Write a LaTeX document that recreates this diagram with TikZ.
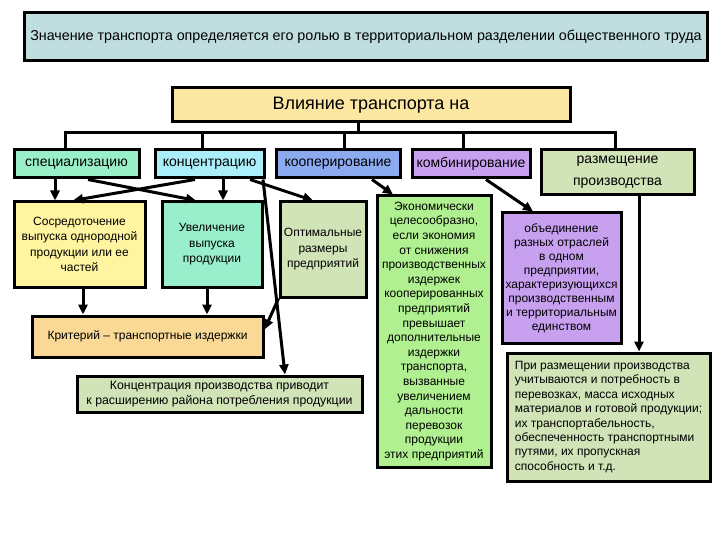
\documentclass[tikz,border=0pt]{standalone}
\usepackage{fontspec}
\setmainfont{Liberation Sans}
\usetikzlibrary{arrows.meta}
\definecolor{ctop}{RGB}{192,222,224}
\definecolor{cvl}{RGB}{251,231,161}
\definecolor{cspec}{RGB}{153,240,200}
\definecolor{cconc}{RGB}{170,238,250}
\definecolor{ccoop}{RGB}{140,170,240}
\definecolor{ccomb}{RGB}{200,160,240}
\definecolor{csage}{RGB}{208,228,184}
\definecolor{cyel}{RGB}{255,245,160}
\definecolor{cmint}{RGB}{153,238,204}
\definecolor{cgreen}{RGB}{176,240,144}
\definecolor{corange}{RGB}{250,216,150}
\tikzset{
  box/.style={draw=black, line width=3pt, inner sep=0pt, align=center},
  big/.style={font=\fontsize{14}{22}\selectfont},
  small/.style={font=\fontsize{12}{15.5}\selectfont},
  arr/.style={line width=3pt, -{Triangle[length=10pt,width=9pt]}},
  ln/.style={line width=3pt},
}
\begin{document}
\begin{tikzpicture}[x=1pt,y=-1pt]
\useasboundingbox[fill=white] (0,0) rectangle (720,540);
% top
\node[box, fill=ctop, minimum width=683, minimum height=48, font=\fontsize{14.3}{16}\selectfont] (top) at (366,37) {Значение транспорта определяется его ролью в территориальном разделении общественного труда};
\node[box, fill=cvl, minimum width=398, minimum height=34, font=\fontsize{18}{20}\selectfont] (vl) at (371,105) {Влияние транспорта на};
% level 1
\node[box, big, fill=cspec, minimum width=125, minimum height=28] (spec) at (76.5,164) {специализацию};
\node[box, big, fill=cconc, minimum width=109, minimum height=28] (conc) at (209.5,164) {концентрацию};
\node[box, big, fill=ccoop, minimum width=124, minimum height=28] (coop) at (338,164) {кооперирование};
\node[box, big, fill=ccomb, minimum width=118, minimum height=28] (comb) at (471,164) {комбинирование};
\node[box, big, fill=csage, minimum width=153, minimum height=45] (razm) at (617.5,172.5) {размещение\\производства};
% tree
\coordinate (j0) at (358,133);
\coordinate (d1) at (65,133);
\coordinate (d2) at (202,133);
\coordinate (d3) at (344,133);
\coordinate (d4) at (463,133);
\coordinate (d5) at (615,133);
\draw[ln] (vl.south -| j0) -- (j0);
\draw[ln] ([xshift=-1.5pt]d1) -- ([xshift=1.5pt]d5);
\draw[ln] (d1) -- (d1 |- spec.north);
\draw[ln] (d2) -- (d2 |- conc.north);
\draw[ln] (d3) -- (d3 |- coop.north);
\draw[ln] (d4) -- (d4 |- comb.north);
\draw[ln] (d5) -- (d5 |- razm.north);
% level 2
\node[box, small, fill=cyel, minimum width=131, minimum height=85] (sosr) at (79.5,244.5) {Сосредоточение\\выпуска однородной\\продукции или ее\\частей};
\node[box, small, fill=cmint, minimum width=100, minimum height=85] (uvel) at (212,244.5) {Увеличение\\выпуска\\продукции};
\node[box, small, fill=csage, minimum width=86, minimum height=95] (opt) at (323,249.5) {Оптимальные\\размеры\\предприятий};
\node[box, fill=cgreen, minimum width=114, minimum height=271, font=\fontsize{12}{14.6}\selectfont] (econ) at (434,331.5) {Экономически\\целесообразно,\\если экономия\\от снижения\\производственных\\издержек\\кооперированных\\предприятий\\превышает\\дополнительные\\издержки\\транспорта,\\вызванные\\увеличением\\дальности\\перевозок\\продукции\\этих предприятий};
\node[box, fill=ccomb, minimum width=119, minimum height=130, font=\fontsize{12}{14}\selectfont] (obed) at (561.5,278) {объединение\\разных отраслей\\в одном\\предприятии,\\характеризующихся\\производственным\\и территориальным\\единством};
\node[box, fill=csage, minimum width=203, minimum height=128, align=left, font=\fontsize{12}{14.4}\selectfont] (prir) at (608.5,417) {При размещении производства\\учитываются и потребность в\\перевозках, масса исходных\\материалов и готовой продукции;\\их транспортабельность,\\обеспеченность транспортными\\путями, их пропускная\\способность и т.д.};
\node[box, small, fill=corange, minimum width=231, minimum height=41] (krit) at (147.5,336.5) {Критерий – транспортные издержки};
\node[box, fill=csage, minimum width=285, minimum height=36, font=\fontsize{12.3}{15}\selectfont] (konc) at (219.5,394) {Концентрация производства приводит\\к расширению района потребления продукции};
% arrows
\draw[arr] ([xshift=-21.5pt]spec.south) -- ([xshift=-24.5pt]sosr.north);
\draw[arr] ([xshift=11.5pt]spec.south) -- ([xshift=-16pt]uvel.north);
\draw[arr] ([xshift=-14.5pt]conc.south) -- ([xshift=-6.5pt]sosr.north);
\draw[arr] ([xshift=13.5pt]conc.south) -- ([xshift=11pt]uvel.north);
\draw[arr] ([xshift=40.5pt]conc.south) -- ([xshift=-10pt]opt.north);
\draw[arr] ([xshift=53.5pt]conc.south) -- ([xshift=65.5pt]konc.north);
\draw[arr] (opt.south west) -- ([yshift=7pt]krit.east);
\draw[arr] ([xshift=3.5pt]sosr.south) -- ([xshift=-64.5pt]krit.north);
\draw[arr] ([xshift=-5pt]uvel.south) -- ([xshift=59.5pt]krit.north);
\draw[arr] ([xshift=34pt]coop.south) -- ([xshift=-41pt]econ.north);
\draw[arr] ([xshift=15pt]comb.south) -- ([xshift=-28.5pt]obed.north);
\draw[arr] ([xshift=21.5pt]razm.south) -- ([xshift=30.5pt]prir.north);
\end{tikzpicture}
\end{document}
